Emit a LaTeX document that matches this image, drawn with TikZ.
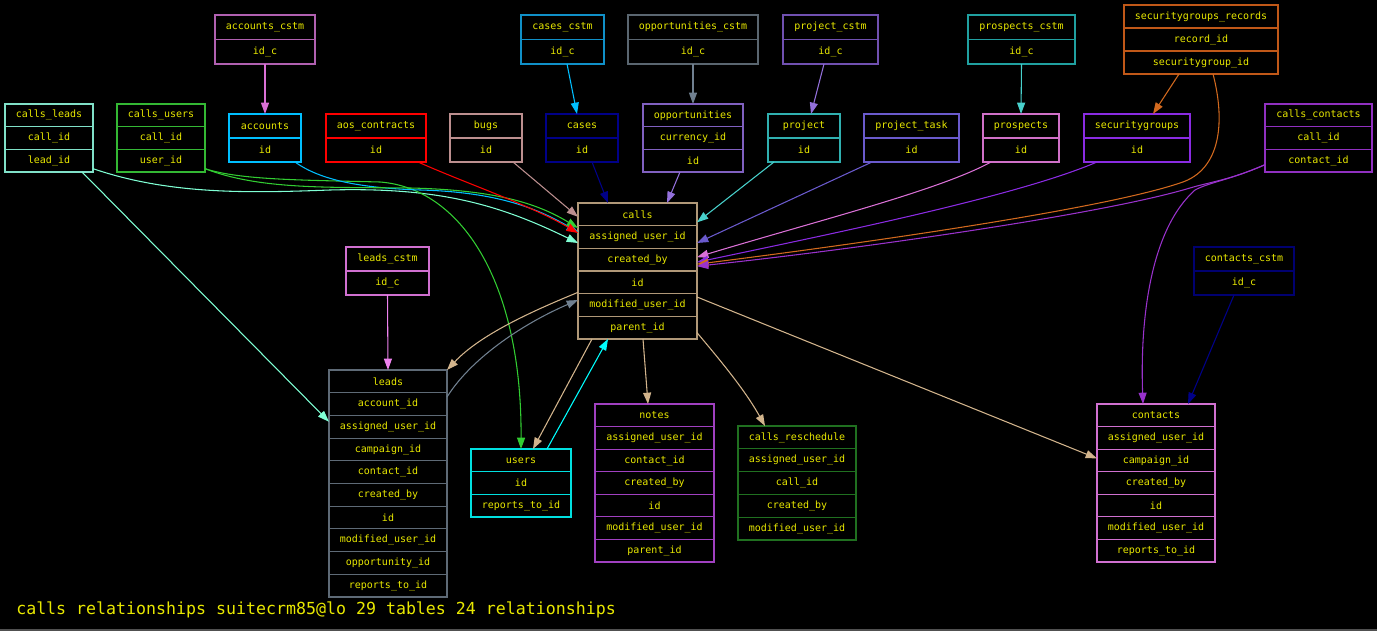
\documentclass[tikz,border=0pt]{standalone}
\usepackage{fontspec}
\setmonofont{DejaVu Sans Mono}
\usetikzlibrary{arrows.meta,calc}
\definecolor{txt}{HTML}{E8E800}
\definecolor{cAqua}{HTML}{7FFFD4}
\definecolor{cAquaB}{HTML}{80E0C8}
\definecolor{cLime}{HTML}{32CD32}
\definecolor{cLimeB}{HTML}{34B834}
\definecolor{cAccC}{HTML}{B060B0}
\definecolor{cOrchid}{HTML}{DA70D6}
\definecolor{cSky}{HTML}{00BFFF}
\definecolor{cCasC}{HTML}{1090C8}
\definecolor{cRosy}{HTML}{BC8F8F}
\definecolor{cNavy}{HTML}{000088}
\definecolor{cNavyD}{HTML}{000070}
\definecolor{cOppC}{HTML}{5A6670}
\definecolor{cSlateG}{HTML}{708090}
\definecolor{cLeadsB}{HTML}{5E6A76}
\definecolor{cMPurp}{HTML}{9370DB}
\definecolor{cMPurpB}{HTML}{8060C0}
\definecolor{cProjC}{HTML}{7050B0}
\definecolor{cProjB}{HTML}{30B0B0}
\definecolor{cTurq}{HTML}{48D1CC}
\definecolor{cProsC}{HTML}{20A0A0}
\definecolor{cSlate}{HTML}{6A5ACD}
\definecolor{cProsB}{HTML}{D070C8}
\definecolor{cSgR}{HTML}{C05818}
\definecolor{cChoc}{HTML}{D2691E}
\definecolor{cBViolet}{HTML}{8A2BE2}
\definecolor{cDOrchid}{HTML}{9932CC}
\definecolor{cDOrchidB}{HTML}{9030C0}
\definecolor{cTan}{HTML}{D2B48C}
\definecolor{cTanB}{HTML}{B09878}
\definecolor{cViolet}{HTML}{EE82EE}
\definecolor{cVioletB}{HTML}{D070D0}
\definecolor{cCyan}{HTML}{00FFFF}
\definecolor{cCyanB}{HTML}{00E0E0}
\definecolor{cNotes}{HTML}{A040C0}
\definecolor{cDGreen}{HTML}{207020}
\definecolor{cBottom}{HTML}{505050}
\tikzset{
  rowbox/.style={rectangle, inner sep=0pt, outer sep=0pt, line width=0.85pt, text=txt},
  tblout/.style={rectangle, inner sep=0pt, outer sep=0pt, draw=none},
  fk/.style={-{Triangle[length=8.5pt,width=6pt]}, line width=0.8pt},
}
\newcommand\tbl[8]{%
  \pgfmathsetmacro\rh{(#6-#5)/#7}%
  \node[tblout, minimum width={(#4-#3)*0.75pt}, minimum height={(#6-#5)*0.75pt}, anchor=north west] (#1) at (#3,#5) {};%
  \foreach \r [count=\i from 0] in {#8} {%
    \node[rowbox, draw=#2, minimum width={(#4-#3)*0.75pt}, minimum height={\rh*0.75pt}] (#1-\i) at ({(#3+#4)/2},{#5+(\i+0.5)*\rh}) {\r};%
  }%
}
\begin{document}
\begin{tikzpicture}[x=0.75pt, y=-0.75pt, font=\ttfamily\fontsize{7.5}{9}\selectfont]
\fill[black] (0,0) rectangle (1377,631);
\useasboundingbox (0,0) rectangle (1377,631);
\draw[cBottom, line width=1.5pt] (0,630) -- (1377,630);

\tbl{accountscstm}{cAccC}{215}{315}{15}{64}{2}{accounts\_cstm,id\_c}
\tbl{casescstm}{cCasC}{521}{604}{15}{64}{2}{cases\_cstm,id\_c}
\tbl{oppcstm}{cOppC}{628}{758}{15}{64}{2}{opportunities\_cstm,id\_c}
\tbl{projcstm}{cProjC}{783}{878}{15}{64}{2}{project\_cstm,id\_c}
\tbl{prospcstm}{cProsC}{968}{1075}{15}{64}{2}{prospects\_cstm,id\_c}
\tbl{sgrec}{cSgR}{1124}{1278}{5}{74}{3}{securitygroups\_records,record\_id,securitygroup\_id}
\tbl{callsleads}{cAquaB}{5}{93}{104}{172}{3}{calls\_leads,call\_id,lead\_id}
\tbl{callsusers}{cLimeB}{117}{205}{104}{172}{3}{calls\_users,call\_id,user\_id}
\tbl{accounts}{cSky}{229}{301}{114}{162}{2}{accounts,id}
\tbl{aos}{red}{326}{426}{114}{162}{2}{aos\_contracts,id}
\tbl{bugs}{cRosy}{450}{522}{114}{162}{2}{bugs,id}
\tbl{cases}{cNavy}{546}{618}{114}{162}{2}{cases,id}
\tbl{opp}{cMPurpB}{643}{743}{104}{172}{3}{opportunities,currency\_id,id}
\tbl{project}{cProjB}{768}{840}{114}{162}{2}{project,id}
\tbl{projtask}{cSlate}{864}{959}{114}{162}{2}{project\_task,id}
\tbl{prospects}{cProsB}{983}{1059}{114}{162}{2}{prospects,id}
\tbl{sg}{cBViolet}{1084}{1190}{114}{162}{2}{securitygroups,id}
\tbl{callscontacts}{cDOrchidB}{1265}{1372}{104}{172}{3}{calls\_contacts,call\_id,contact\_id}
\tbl{calls}{cTanB}{578}{697}{203}{339}{6}{calls,assigned\_user\_id,created\_by,id,modified\_user\_id,parent\_id}
\tbl{leadscstm}{cVioletB}{346}{429}{247}{295}{2}{leads\_cstm,id\_c}
\tbl{leads}{cLeadsB}{329}{447}{370}{597}{10}{leads,account\_id,assigned\_user\_id,campaign\_id,contact\_id,created\_by,id,modified\_user\_id,opportunity\_id,reports\_to\_id}
\tbl{users}{cCyanB}{471}{571}{449}{517}{3}{users,id,reports\_to\_id}
\tbl{notes}{cNotes}{595}{714}{404}{562}{7}{notes,assigned\_user\_id,contact\_id,created\_by,id,modified\_user\_id,parent\_id}
\tbl{callsresch}{cDGreen}{738}{856}{426}{540}{5}{calls\_reschedule,assigned\_user\_id,call\_id,created\_by,modified\_user\_id}
\tbl{contactscstm}{cNavyD}{1194}{1294}{247}{295}{2}{contacts\_cstm,id\_c}
\tbl{contacts}{cVioletB}{1097}{1215}{404}{562}{7}{contacts,assigned\_user\_id,campaign\_id,created\_by,id,modified\_user\_id,reports\_to\_id}

% cstm -> base tables
\draw[fk, cOrchid] (accountscstm.south) -- (accounts.north);
\draw[fk, cSky] ($(casescstm.south)+(4.5,0)$) -- ($(cases.north)+(-5,0)$);
\draw[fk, cSlateG] (oppcstm.south) -- (opp.north);
\draw[fk, cMPurp] ($(projcstm.south)+(-6.5,0)$) -- ($(project.north)+(7,0)$);
\draw[fk, cTurq] (prospcstm.south) -- (prospects.north);
\draw[fk, cChoc] ($(sgrec.south)+(-22,0)$) -- ($(sg.north)+(16,0)$);
\draw[fk, cViolet] (leadscstm.south) -- (leads.north);
\draw[fk, cNavy] ($(contactscstm.south)+(-10,0)$) -- ($(contacts.north)+(32,0)$);

% into calls (left side)
\draw[fk, cAqua] ($(callsleads-2.east)+(0,8)$) .. controls (170,195) and (250,193) .. (330,190) .. controls (440,187) and (500,205) .. ($(calls-1.west)+(0,6)$);
\draw[fk, cAqua] ($(callsleads.south)+(33,0)$) -- ($(leads-2.west)+(0,-5)$);
\draw[fk, cLime] ($(callsusers-2.east)+(0,8)$) .. controls (240,180) and (300,180) .. (380,182) .. controls (460,188) and (522,280) .. (users.north);
\draw[fk, cSky] ($(accounts.south)+(30,0)$) .. controls (320,180) and (360,188) .. (420,190) .. controls (500,192) and (540,210) .. ($(calls-1.west)+(0,-5)$);
\draw[fk, cLime] ($(callsusers-2.east)+(0,8)$) .. controls (260,190) and (330,187) .. (410,188) .. controls (500,190) and (540,205) .. ($(calls-1.west)+(0,-9)$);
\draw[fk, red] ($(aos.south)+(42,0)$) .. controls (470,185) and (530,205) .. ($(calls-1.west)+(0,-4)$);
\draw[fk, cRosy] ($(bugs.south)+(27,0)$) -- ($(calls-0.west)+(0,2.5)$);
\draw[fk, cNavy] ($(cases.south)+(10,0)$) -- ($(calls.north)+(-29.5,0)$);
\draw[fk, cMPurp] ($(opp.south)+(-13,0)$) -- ($(calls.north)+(29.5,0)$);

% into calls (right side)
\draw[fk, cTurq] ($(project.south)+(-30,0)$) -- ($(calls-0.east)+(0,8)$);
\draw[fk, cSlate] ($(projtask.south)+(-39.5,0)$) -- ($(calls-1.east)+(0,6)$);
\draw[fk, cOrchid] ($(prospects.south)+(-30,0)$) .. controls (940,190) and (820,220) .. ($(calls-2.east)+(0,-2.5)$);
\draw[fk, cBViolet] ($(sg.south)+(-40,0)$) .. controls (1020,195) and (850,230) .. ($(calls-2.east)+(0,2.5)$);
\draw[fk, cChoc] ($(sgrec.south)+(12,0)$) .. controls (1225,120) and (1222,170) .. (1180,183) .. controls (1100,210) and (850,245) .. ($(calls-2.east)+(0,4.5)$);
\draw[fk, cDOrchid] ($(callscontacts-2.west)+(0,4)$) .. controls (1230,180) and (1210,182) .. (1190,188) .. controls (1100,215) and (850,250) .. ($(calls-2.east)+(0,6.5)$);
\draw[fk, cDOrchid] ($(callscontacts-2.west)+(0,4)$) .. controls (1230,180) and (1210,182) .. (1195,190) .. controls (1150,230) and (1140,320) .. ($(contacts.north)+(-13,0)$);

% out of calls
\draw[fk, cTan] ($(calls-3.west)+(0,10)$) .. controls (530,312) and (480,335) .. (leads.north east);
\draw[fk, cSlateG] ($(leads-1.east)+(0,-7)$) .. controls (470,360) and (520,325) .. ($(calls-4.west)+(0,-5)$);
\draw[fk, cTan] ($(calls.south)+(-45.5,0)$) -- ($(users.north)+(12,0)$);
\draw[fk, cCyan] ($(users.north)+(26,0)$) -- ($(calls.south)+(-29.5,0)$);
\draw[fk, cTan] ($(calls.south)+(5.5,0)$) -- ($(notes.north)+(-6.5,0)$);
\draw[fk, cTan] ($(calls-5.east)+(0,5)$) .. controls (720,360) and (745,390) .. ($(callsresch.north)+(-32,0)$);
\draw[fk, cTan] ($(calls-4.east)+(0,-8)$) -- ($(contacts-2.west)+(0,-2)$);

\node[anchor=base west, inner sep=0pt, text=txt, font=\ttfamily\fontsize{12.45}{14}\selectfont] (title) at (16,614) {calls relationships suitecrm85@lo 29 tables 24 relationships};
\end{tikzpicture}
\end{document}
